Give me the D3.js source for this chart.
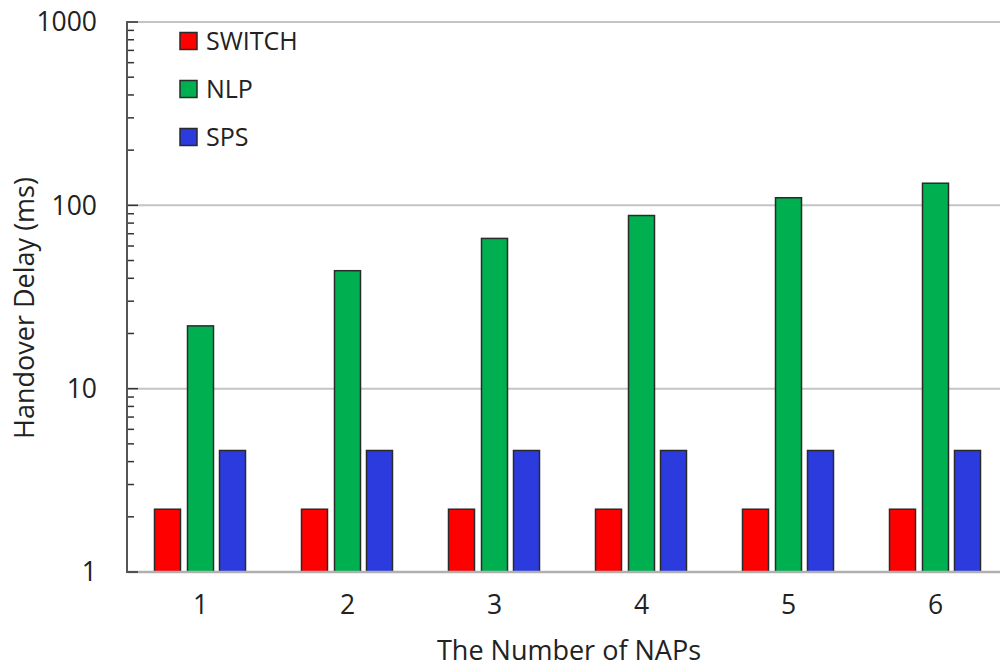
<!DOCTYPE html>
<html>
<head>
<meta charset="utf-8">
<script src="https://cdn.jsdelivr.net/npm/d3@7"></script>
<style>
  body { margin: 0; background: #fff; }
  text { font-family: "Open Sans", "Noto Sans", sans-serif; fill: #222; }
</style>
</head>
<body>
<svg id="chart" width="1000" height="668"></svg>
<script>
// data
var naps = ["1", "2", "3", "4", "5", "6"];
var seriesNames = ["SWITCH", "NLP", "SPS"];
var switchDelay = [2.2, 2.2, 2.2, 2.2, 2.2, 2.2];
var nlpDelay = [22, 44, 66, 88, 110, 132];
var spsDelay = [4.6, 4.6, 4.6, 4.6, 4.6, 4.6];
var yTicks = [1, 10, 100, 1000];
var colors = ["#ff0000", "#00b050", "#2b3bdd"];

var svg = d3.select("#chart");

var margin = { left: 127, top: 22, bottom: 96 };
var height = 668;

// scales
var x = d3.scaleBand()
    .domain(naps)
    .range([margin.left, margin.left + 6 * 147])
    .paddingInner(0)
    .paddingOuter(0);

var y = d3.scaleLog()
    .domain([1, 1000])
    .range([height - margin.bottom, margin.top]);

var offsets = [-33, 0, 32];
var barWidth = 26;

// gridlines
svg.append("g")
    .selectAll("line")
    .data(yTicks.slice(1))
    .join("line")
    .attr("x1", margin.left)
    .attr("x2", 1000)
    .attr("y1", d => y(d))
    .attr("y2", d => y(d))
    .attr("stroke", "#c4c4c4")
    .attr("stroke-width", 2);

// bars
var allSeries = [switchDelay, nlpDelay, spsDelay];
allSeries.forEach(function(vals, si) {
    svg.append("g")
        .selectAll("rect")
        .data(vals)
        .join("rect")
        .attr("x", (d, i) => x(naps[i]) + x.bandwidth() / 2 + offsets[si] - barWidth / 2)
        .attr("y", d => y(d))
        .attr("width", barWidth)
        .attr("height", d => y(1) - y(d))
        .attr("fill", colors[si])
        .attr("stroke", "#2a2a2a")
        .attr("stroke-width", 1.5);
});

// bottom axis line
svg.append("line")
    .attr("x1", margin.left)
    .attr("x2", 1000)
    .attr("y1", y(1))
    .attr("y2", y(1))
    .attr("stroke", "#b0b0b0")
    .attr("stroke-width", 2.5);

// y axis with inward ticks
var minorTicks = [];
for (var e = 0; e < 3; e++) {
    for (var k = 2; k <= 9; k++) minorTicks.push(k * Math.pow(10, e));
}
var gy = svg.append("g");
gy.selectAll("line.minor")
    .data(minorTicks)
    .join("line")
    .attr("class", "minor")
    .attr("x1", margin.left)
    .attr("x2", margin.left + 7)
    .attr("y1", d => y(d))
    .attr("y2", d => y(d))
    .attr("stroke", "#333")
    .attr("stroke-width", 1.5);
gy.selectAll("line.major")
    .data(yTicks)
    .join("line")
    .attr("class", "major")
    .attr("x1", margin.left)
    .attr("x2", margin.left + 11)
    .attr("y1", d => y(d))
    .attr("y2", d => y(d))
    .attr("stroke", "#333")
    .attr("stroke-width", 1.5);
gy.append("line")
    .attr("x1", margin.left)
    .attr("x2", margin.left)
    .attr("y1", y(1000) - 1)
    .attr("y2", y(1) + 1)
    .attr("stroke", "#555")
    .attr("stroke-width", 2);
gy.selectAll("text")
    .data(yTicks)
    .join("text")
    .attr("x", 97)
    .attr("y", d => y(d))
    .attr("dy", "0.35em")
    .attr("text-anchor", "end")
    .style("font-size", "26.5px")
    .text(d => d);

// x tick labels
svg.append("g")
    .selectAll("text")
    .data(naps)
    .join("text")
    .attr("x", d => x(d) + x.bandwidth() / 2)
    .attr("y", 605)
    .attr("dy", "0.35em")
    .attr("text-anchor", "middle")
    .style("font-size", "26.5px")
    .text(d => d);

// axis titles
svg.append("text")
    .attr("x", 569)
    .attr("y", 651)
    .attr("dy", "0.35em")
    .attr("text-anchor", "middle")
    .style("font-size", "27px")
    .text("The Number of NAPs");

svg.append("text")
    .attr("transform", "translate(25,308) rotate(-90)")
    .attr("dy", "0.35em")
    .attr("text-anchor", "middle")
    .style("font-size", "27px")
    .text("Handover Delay (ms)");

// legend
var legend = svg.append("g")
    .selectAll("g")
    .data(seriesNames)
    .join("g")
    .attr("transform", (d, i) => "translate(180," + (41 + i * 48) + ")");
legend.append("rect")
    .attr("x", 0)
    .attr("y", -8.5)
    .attr("width", 17)
    .attr("height", 17)
    .attr("fill", (d, i) => colors[i])
    .attr("stroke", "#2a2a2a")
    .attr("stroke-width", 1.5);
legend.append("text")
    .attr("x", 26)
    .attr("y", 0)
    .attr("dy", "0.35em")
    .style("font-size", "25px")
    .text(d => d);
</script>
</body>
</html>
